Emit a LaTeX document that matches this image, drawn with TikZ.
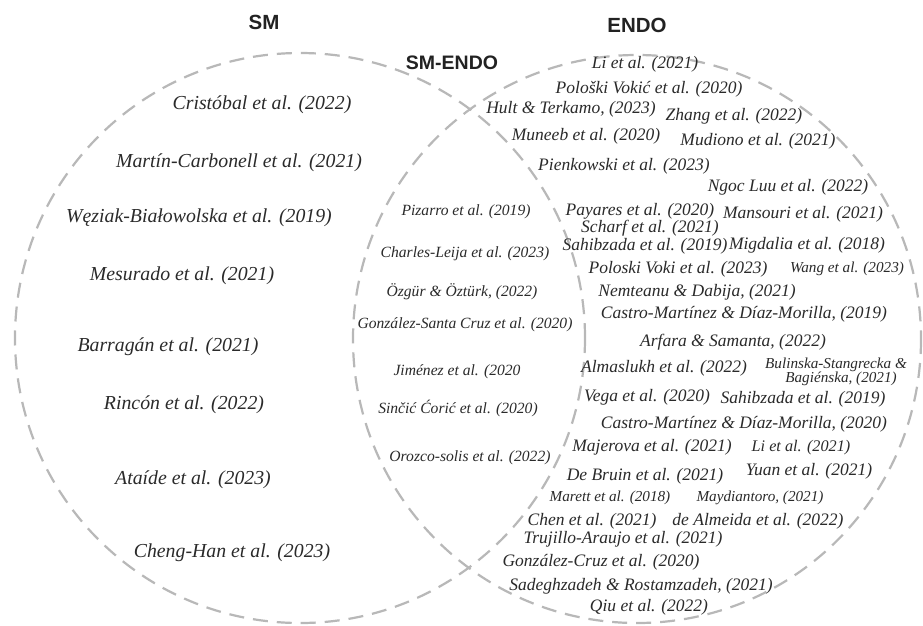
\documentclass[tikz,border=0pt]{standalone}
\usepackage{fontspec}
\setmainfont{Liberation Serif}
\newfontfamily\headfont{Liberation Sans}
\definecolor{txtc}{HTML}{2A2A2A}
\definecolor{headc}{HTML}{222222}
\definecolor{dashc}{HTML}{B8B8B8}
\begin{document}
\begin{tikzpicture}[x=1pt,y=-1pt,
  ref/.style={inner sep=0pt,anchor=center,text=txtc,font=\itshape},
  leftref/.style={ref,font=\fontsize{19.8}{22}\selectfont\itshape},
  midref/.style={ref,font=\fontsize{15.6}{18}\selectfont\itshape},
  rightref/.style={ref,font=\fontsize{17.5}{19}\selectfont\itshape},
  smallref/.style={ref,font=\fontsize{15.2}{16}\selectfont\itshape},
  head/.style={inner sep=0pt,anchor=center,text=headc,font=\fontsize{20.5}{22}\selectfont\headfont\bfseries},
  setline/.style={draw=dashc,line width=2.2pt,dash pattern=on 15pt off 9pt}]
\useasboundingbox (0,0) rectangle (923,625);
\fill[white] (0,0) rectangle (923,625);
% set outlines
\draw[setline] (300,338) circle[radius=285];
\draw[setline] (637,339) circle[radius=284];
% headings
\node[head] (hsm) at (264,22) {SM};
\node[head] (hendo) at (637,25) {ENDO};
\node[head,font=\fontsize{19.5}{21}\selectfont\headfont\bfseries] (hboth) at (452,63) {SM-ENDO};
% SM only
\node[leftref] (l1) at (262,105) {Cristóbal et al. (2022)};
\node[leftref] (l2) at (239,163) {Martín-Carbonell et al. (2021)};
\node[leftref] (l3) at (199,218) {Węziak-Białowolska et al. (2019)};
\node[leftref] (l4) at (182,276) {Mesurado et al. (2021)};
\node[leftref] (l5) at (168,347) {Barragán et al. (2021)};
\node[leftref] (l6) at (184,405) {Rincón et al. (2022)};
\node[leftref] (l7) at (193,480) {Ataíde et al. (2023)};
\node[leftref] (l8) at (232,553) {Cheng-Han et al. (2023)};
% SM-ENDO
\node[midref] (m1) at (466,212) {Pizarro et al. (2019)};
\node[midref] (m2) at (465,254) {Charles-Leija et al. (2023)};
\node[midref] (m3) at (462,292) {Özgür \& Öztürk, (2022)};
\node[midref] (m4) at (465,325) {González-Santa Cruz et al. (2020)};
\node[midref] (m5) at (457,372) {Jiménez et al. (2020};
\node[midref] (m6) at (458,408) {Sinčić Ćorić et al. (2020)};
\node[midref] (m7) at (470,458) {Orozco-solis et al. (2022)};
% ENDO only
\node[rightref] (r1) at (645,64) {Li et al. (2021)};
\node[rightref] (r2) at (649,89) {Pološki Vokić et al. (2020)};
\node[rightref] (r3) at (571,109) {Hult \& Terkamo, (2023)};
\node[rightref] (r4) at (734,116) {Zhang et al. (2022)};
\node[rightref] (r5) at (586,136) {Muneeb et al. (2020)};
\node[rightref] (r6) at (758,141) {Mudiono et al. (2021)};
\node[rightref] (r7) at (624,166) {Pienkowski et al. (2023)};
\node[rightref] (r8) at (788,187) {Ngoc Luu et al. (2022)};
\node[rightref] (r9) at (640,211) {Payares et al. (2020)};
\node[rightref] (r10) at (803,214) {Mansouri et al. (2021)};
\node[rightref] (r11) at (650,228) {Scharf et al. (2021)};
\node[rightref] (r12) at (645,246) {Sahibzada et al. (2019)};
\node[rightref] (r13) at (807,245) {Migdalia et al. (2018)};
\node[rightref] (r14) at (678,269) {Poloski Voki et al. (2023)};
\node[smallref] (r15) at (847,269) {Wang et al. (2023)};
\node[rightref] (r16) at (697,292) {Nemteanu \& Dabija, (2021)};
\node[rightref] (r17) at (744,314) {Castro-Martínez \& Díaz-Morilla, (2019)};
\node[rightref] (r18) at (733,342) {Arfara \& Samanta, (2022)};
\node[rightref] (r19) at (664,368) {Almaslukh et al. (2022)};
\node[smallref,align=center,font=\fontsize{15.2}{14}\selectfont\itshape] (r20) at (836,372) {Bulinska-Stangrecka \&\\\hspace*{10pt}Bagiénska, (2021)};
\node[rightref] (r21) at (647,397) {Vega et al. (2020)};
\node[rightref] (r22) at (803,399) {Sahibzada et al. (2019)};
\node[rightref] (r23) at (744,424) {Castro-Martínez \& Díaz-Morilla, (2020)};
\node[rightref] (r24) at (652,447) {Majerova et al. (2021)};
\node[smallref,font=\fontsize{16.2}{17}\selectfont\itshape] (r25) at (801,448) {Li et al. (2021)};
\node[rightref] (r26) at (809,471) {Yuan et al. (2021)};
\node[rightref] (r27) at (645,476) {De Bruin et al. (2021)};
\node[smallref] (r28) at (610,498) {Marett et al. (2018)};
\node[smallref] (r29) at (760,498) {Maydiantoro, (2021)};
\node[rightref] (r30) at (592,521) {Chen et al. (2021)};
\node[rightref] (r31) at (758,521) {de Almeida et al. (2022)};
\node[rightref] (r32) at (623,539) {Trujillo-Araujo et al. (2021)};
\node[rightref] (r33) at (601,562) {González-Cruz et al. (2020)};
\node[rightref] (r34) at (641,586) {Sadeghzadeh \& Rostamzadeh, (2021)};
\node[rightref] (r35) at (649,607) {Qiu et al. (2022)};
\end{tikzpicture}
\end{document}
